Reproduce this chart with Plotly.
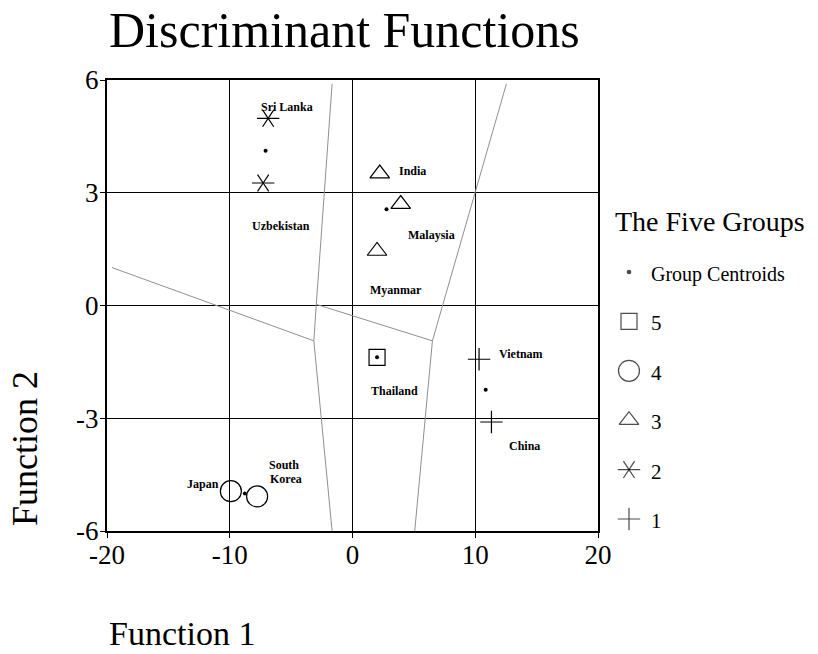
import plotly.graph_objects as go

FONT = "Liberation Serif, Times New Roman, serif"
W, H = 818, 654

# ---- data ----
g1_x = [11.32, 10.31]; g1_y = [-3.10, -1.43]            # China, Vietnam
g2_x = [-6.87, -7.28]; g2_y = [4.98, 3.26]              # Sri Lanka, Uzbekistan
g3_x = [2.22, 3.93, 2.00]; g3_y = [3.51, 2.70, 1.45]    # India, Malaysia, Myanmar
g4_x = [-9.91, -7.77]; g4_y = [-4.94, -5.08]            # Japan, South Korea
g5_x = [2.00]; g5_y = [-1.38]                           # Thailand
cen_x = [10.85, -7.08, 2.77, -8.77, 2.00]
cen_y = [-2.24, 4.12, 2.56, -5.00, -1.38]

label_text = ["Sri Lanka", "Uzbekistan", "India", "Malaysia", "Myanmar",
              "Thailand", "Vietnam", "China", "Japan", "South", "Korea"]
label_x = [-5.37, -5.86, 4.85, 6.43, 3.58, 3.44, 13.76, 14.03, -12.17, -5.55, -5.40]
label_y = [5.29, 2.11, 3.58, 1.87, 0.41, -2.27, -1.30, -3.75, -4.74, -4.24, -4.62]

# territorial map boundary segments
seg_x = [[-1.66, -2.95], [-2.95, 6.51], [-2.95, -3.15], [-19.6, -3.15],
         [-3.15, -1.66], [6.51, 12.54], [6.51, 5.07]]
seg_y = [[5.90, 0.03], [0.03, -0.94], [0.03, -0.94], [1.01, -0.94],
         [-0.94, -6.00], [-0.94, 5.90], [-0.94, -6.00]]

x_ticks = [-20, -10, 0, 10, 20]
x_tick_text = ["-20", "-10", "0", "10", "20"]
y_ticks = [-6, -3, 0, 3, 6]
y_tick_text = ["-6", "-3", "0", "3", "6"]

legend_labels = ["Group Centroids", "5", "4", "3", "2", "1"]

# ---- layout helpers ----
px_l, px_r, px_t, px_b = 107, 598, 80, 531
xdom = [px_l / W, px_r / W]
ydom = [1 - px_b / H, 1 - px_t / H]

fig = go.Figure()

for sx, sy in zip(seg_x, seg_y):
    fig.add_trace(go.Scatter(x=sx, y=sy, mode="lines",
                             line=dict(color="#909090", width=1),
                             showlegend=False, hoverinfo="skip"))

mline = dict(color="black", width=1.2)

fig.add_trace(go.Scatter(x=g1_x, y=g1_y, mode="markers", name="1",
                         marker=dict(symbol="cross-thin", size=16, color="black", line=mline)))
# six-armed asterisk made of y-left + y-right
ast_x, ast_y, ast_s = [], [], []
for xv, yv in zip(g2_x, g2_y):
    for s in ["y-left", "y-right"]:
        ast_x.append(xv); ast_y.append(yv); ast_s.append(s)
fig.add_trace(go.Scatter(x=ast_x, y=ast_y, mode="markers", name="2",
                         marker=dict(symbol=ast_s, size=14, color="black", line=mline)))
fig.add_trace(go.Scatter(x=g3_x, y=g3_y, mode="markers", name="3",
                         marker=dict(symbol="triangle-up-open", size=17, color="black", line=mline)))
fig.add_trace(go.Scatter(x=g4_x, y=g4_y, mode="markers", name="4",
                         marker=dict(symbol="circle-open", size=21, color="black", line=mline)))
fig.add_trace(go.Scatter(x=g5_x, y=g5_y, mode="markers", name="5",
                         marker=dict(symbol="square-open", size=16, color="black", line=mline)))
fig.add_trace(go.Scatter(x=cen_x, y=cen_y, mode="markers", name="Group Centroids",
                         marker=dict(symbol="circle", size=4, color="black")))

# ---- manual legend on its own hidden axes ----
leg_sym = [["circle"], ["square-open"], ["circle-open"], ["triangle-up-open"],
           ["y-left", "y-right"], ["cross-thin"]]
leg_size = [3.5, 16, 21, 17, 14, 16]
lx, ly, ls, lz = [], [], [], []
for i, (syms, sz) in enumerate(zip(leg_sym, leg_size)):
    for s in syms:
        lx.append(29); ly.append(i); ls.append(s); lz.append(sz)
fig.add_trace(go.Scatter(x=lx, y=ly, xaxis="x2", yaxis="y2", mode="markers",
                         marker=dict(symbol=ls, size=lz, color="black", line=mline),
                         showlegend=False, hoverinfo="skip", cliponaxis=False))

annotations = []
for t, xv, yv in zip(label_text, label_x, label_y):
    annotations.append(dict(x=xv, y=yv, xref="x", yref="y", text="<b>" + t + "</b>",
                            showarrow=False, font=dict(family=FONT, size=12, color="black"),
                            align="center"))
for i, t in enumerate(legend_labels):
    annotations.append(dict(x=49, y=i, xref="x2", yref="y2", text=t, xanchor="left",
                            yanchor="middle", yshift=-2, showarrow=False,
                            font=dict(family=FONT, size=20 if i == 0 else 21, color="black")))
annotations.append(dict(x=613 / W, y=1 - 222 / H, xref="paper", yref="paper",
                        text="The Five Groups", xanchor="left", yanchor="middle",
                        showarrow=False, font=dict(family=FONT, size=28, color="black")))
annotations.append(dict(x=344 / W, y=1 - 30 / H, xref="paper", yref="paper",
                        text="Discriminant Functions", xanchor="center", yanchor="middle",
                        showarrow=False, font=dict(family=FONT, size=50, color="black")))
annotations.append(dict(x=107 / W, y=1 - 633 / H, xref="paper", yref="paper",
                        text="Function 1", xanchor="left", yanchor="middle",
                        showarrow=False, font=dict(family=FONT, size=34, color="black")))
annotations.append(dict(x=25 / W, y=1 - 449 / H, xref="paper", yref="paper",
                        text="Function 2", xanchor="center", yanchor="middle", textangle=-90,
                        showarrow=False, font=dict(family=FONT, size=36, color="black")))

axis_common = dict(showgrid=True, gridcolor="black", gridwidth=1, zeroline=False,
                   showline=True, linecolor="black", linewidth=2, mirror=True,
                   ticks="outside", ticklen=5, tickwidth=1, tickcolor="black",
                   tickfont=dict(family=FONT, size=27, color="black"), fixedrange=True,
                   automargin=False)

fig.update_layout(
    width=W, height=H, margin=dict(l=0, r=0, t=0, b=0, autoexpand=False),
    paper_bgcolor="white", plot_bgcolor="white", showlegend=False,
    xaxis=dict(range=[-20, 20], tickvals=x_ticks, ticktext=x_tick_text, domain=xdom,
               ticklabelstandoff=-6, **axis_common),
    yaxis=dict(range=[-6, 6], tickvals=y_ticks, ticktext=y_tick_text, domain=ydom,
               ticklabelstandoff=-4, **axis_common),
    xaxis2=dict(domain=[600 / W, 1.0], range=[0, 218], visible=False, anchor="y2",
                fixedrange=True, automargin=False),
    yaxis2=dict(domain=[1 - 519 / H, 1 - 272 / H], range=[5, 0], visible=False, anchor="x2",
                fixedrange=True, automargin=False),
    annotations=annotations,
    font=dict(family=FONT, color="black"),
)

fig.write_html("out.html", config={"displayModeBar": False},
               post_script="document.body.style.margin='0';"
                           "document.body.style.overflow='hidden';")
